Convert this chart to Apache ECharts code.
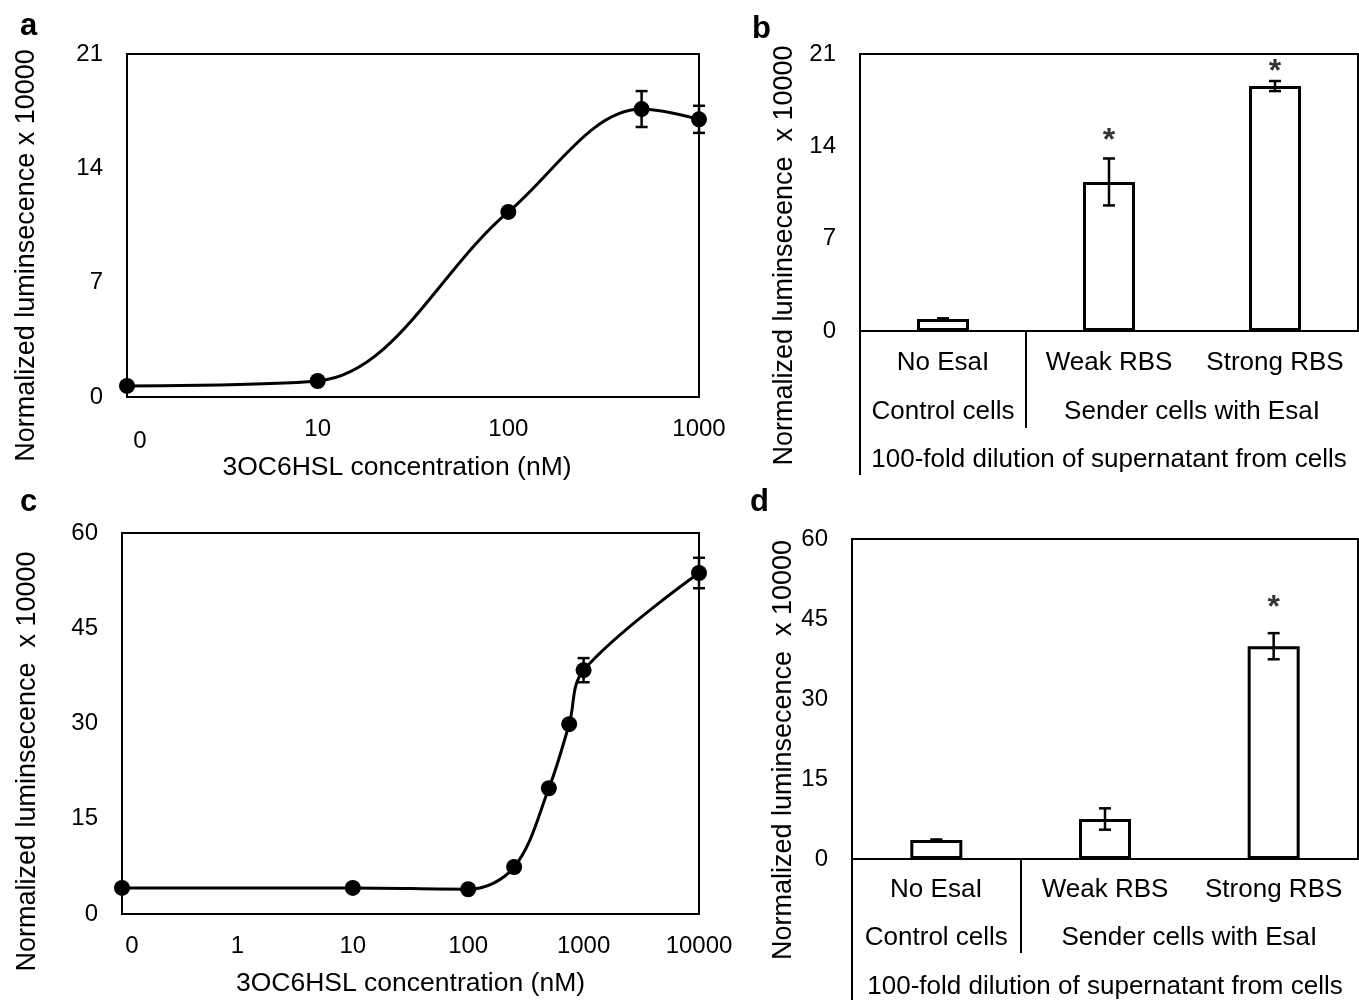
<!DOCTYPE html>
<html>
<head>
<meta charset="utf-8">
<script src="https://cdn.jsdelivr.net/npm/echarts@6/dist/echarts.min.js"></script>
<style>
html,body{margin:0;padding:0;background:#fff;}
#chart{width:1359px;height:1000px;}
</style>
</head>
<body>
<div id="chart"></div>
<script>
// ---------- data ----------
const yTitleA = 'Normalized luminsecence x 10000';
const yTitleB = 'Normalized luminsecence  x 10000';
const xTitle = '3OC6HSL concentration (nM)';

// panel a: dose response (concentration 0 is drawn at the left edge of the log axis)
const concA = [0, 10, 100, 500, 1000];
const lumA = [0.68, 0.98, 11.33, 17.63, 17.0];
const errA = [0, 0, 0, 1.1, 0.83];
const xTickLabelsA = ['0', '10', '100', '1000'];

// panel c
const concC = [0, 10, 100, 250, 500, 750, 1000, 10000];
const lumC = [4.1, 4.1, 3.9, 7.4, 19.8, 29.9, 38.4, 53.7];
const errC = [0, 0, 0, 0, 0, 0, 1.9, 2.4];
const xTickLabelsC = ['0', '1', '10', '100', '1000', '10000'];

// panel b / d: bars
const cats = ['No EsaI', 'Weak RBS', 'Strong RBS'];
const groupLabels = ['Control cells', 'Sender cells with EsaI'];
const sourceLabel = '100-fold dilution of supernatant from cells';
const lumB = [0.91, 11.3, 18.57];
const errB = [0.05, 1.78, 0.38];
const starB = [null, 15.0, 20.2];
const lumD = [3.56, 7.5, 39.9];
const errD = [0.1, 2.0, 2.45];
const starD = [null, null, 48.6];

const yTicksAB = {min: 0, max: 21, interval: 7};
const yTicksCD = {min: 0, max: 60, interval: 15};

// ---------- helpers ----------
const FONT = 'Liberation Sans, Arial, sans-serif';
const BLACK = '#000';
const zeroPosA = 1, zeroPosC = 0.1;   // where concentration "0" sits on each log axis

function lineData(conc, lum, zeroPos) {
  return conc.map((c, i) => [c === 0 ? zeroPos : c, lum[i]]);
}
function errData(conc, lum, err, zeroPos) {
  return conc.map((c, i) => [c === 0 ? zeroPos : c, lum[i], err[i]]).filter(d => d[2] > 0);
}
function errorSeries(xi, yi, data) {
  return {
    type: 'custom', xAxisIndex: xi, yAxisIndex: yi, z: 5,
    data: data,
    renderItem: function (params, api) {
      const x = api.value(0), y = api.value(1), e = api.value(2);
      const t = api.coord([x, y + e]);
      const b = api.coord([x, y - e]);
      const hw = 6;
      const st = {stroke: BLACK, lineWidth: 2.5};
      return {type: 'group', children: [
        {type: 'line', shape: {x1: t[0], y1: t[1], x2: b[0], y2: b[1]}, style: st},
        {type: 'line', shape: {x1: t[0] - hw, y1: t[1], x2: t[0] + hw, y2: t[1]}, style: st},
        {type: 'line', shape: {x1: b[0] - hw, y1: b[1], x2: b[0] + hw, y2: b[1]}, style: st}
      ]};
    }
  };
}
const axisLine = {show: true, lineStyle: {color: BLACK, width: 2}};
const noTick = {show: false};
const noSplit = {show: false};

function logXAxis(gi, min, max, labels, zeroRich, gap, shift) {
  return {
    type: 'log', logBase: 10, gridIndex: gi, min: min, max: max,
    axisLine: axisLine, axisTick: noTick, splitLine: noSplit,
    axisLabel: {
      fontSize: 24, color: BLACK, fontFamily: FONT, margin: 20,
      formatter: function (v, i) { return i === 0 ? '{z|' + labels[0] + '}' : labels[i]; },
      rich: {z: zeroRich}
    },
    name: xTitle, nameLocation: 'middle', nameGap: gap,
    nameTextStyle: {fontSize: 26.5, color: BLACK, fontFamily: FONT, padding: [0, shift, 0, 0]}
  };
}
function yAxis(gi, ticks, title, gap, shift) {
  return {
    type: 'value', gridIndex: gi, min: ticks.min, max: ticks.max, interval: ticks.interval,
    axisLine: axisLine, axisTick: noTick, splitLine: noSplit,
    axisLabel: {fontSize: 24, color: BLACK, fontFamily: FONT, margin: 24},
    name: title, nameLocation: 'middle', nameGap: gap,
    nameTextStyle: {fontSize: 27, color: BLACK, fontFamily: FONT, padding: [0, shift, 0, 0]}
  };
}
function catAxes(gi, m1, m2, m3, len2, len3) {
  const lab = {fontSize: 26, color: BLACK, fontFamily: FONT};
  return [
    {type: 'category', gridIndex: gi, data: cats,
      axisLine: axisLine, axisTick: noTick, splitLine: noSplit,
      axisLabel: Object.assign({margin: m1, interval: 0}, lab)},
    {type: 'value', gridIndex: gi, min: 0, max: 3, position: 'bottom',
      axisLine: {show: false}, splitLine: noSplit,
      axisTick: {show: true, customValues: [0, 1], length: len2, lineStyle: {color: BLACK, width: 2}},
      axisLabel: Object.assign({margin: m2, customValues: [0.5, 2],
        formatter: function (v) { return v < 1 ? groupLabels[0] : groupLabels[1]; }}, lab)},
    {type: 'value', gridIndex: gi, min: 0, max: 3, position: 'bottom',
      axisLine: {show: false}, splitLine: noSplit,
      axisTick: {show: true, customValues: [0], length: len3, lineStyle: {color: BLACK, width: 2}},
      axisLabel: Object.assign({margin: m3, customValues: [1.5],
        formatter: function () { return sourceLabel; }}, lab)}
  ];
}
function barSeries(xi, yi, vals) {
  return {type: 'bar', xAxisIndex: xi, yAxisIndex: yi, data: vals, barWidth: 52,
    itemStyle: {color: '#fff', borderColor: BLACK, borderWidth: 3}, z: 3};
}
function barErr(xi, yi, vals, errs) {
  return errorSeries(xi, yi, vals.map((v, i) => [i, v, errs[i]]));
}
function starSeries(xi, yi, stars) {
  return {type: 'scatter', xAxisIndex: xi, yAxisIndex: yi, symbolSize: 1,
    itemStyle: {color: 'rgba(0,0,0,0)'},
    data: stars.map((s, i) => s == null ? null : [i, s]).filter(d => d),
    label: {show: true, position: 'inside', formatter: '*', fontSize: 32,
      fontWeight: 'bold', color: BLACK, fontFamily: FONT, offset: [0, 8]}};
}
function curveSeries(xi, yi, data) {
  return {type: 'line', xAxisIndex: xi, yAxisIndex: yi, data: data, smooth: 0.35,
    symbol: 'circle', symbolSize: 16, showSymbol: true,
    lineStyle: {color: BLACK, width: 3}, itemStyle: {color: BLACK}, z: 4};
}
const gridStyle = {show: true, borderColor: BLACK, borderWidth: 2, backgroundColor: 'transparent'};
const letter = (t, l, tp) => ({text: t, left: l, top: tp,
  textStyle: {fontSize: 31, fontWeight: 'bold', color: BLACK, fontFamily: FONT}});

const chart = echarts.init(document.getElementById('chart'), null, {renderer: 'canvas'});
const option = {
  animation: false,
  backgroundColor: '#fff',
  title: [letter('a', 15, 6), letter('b', 747, 9), letter('c', 15, 482), letter('d', 745, 482)],
  grid: [
    Object.assign({left: 127, top: 54, width: 572, height: 343}, gridStyle),
    Object.assign({left: 860, top: 54, width: 498, height: 277}, gridStyle),
    Object.assign({left: 122, top: 533, width: 577, height: 381}, gridStyle),
    Object.assign({left: 852, top: 539, width: 506, height: 320}, gridStyle)
  ],
  xAxis: [
    logXAxis(0, 1, 1000, xTickLabelsA, {padding: [12, 0, 0, 26], fontSize: 24, color: BLACK, fontFamily: FONT}, 57, 32),
    ...catAxes(1, 19, 68, 116, 97, 144),
    logXAxis(2, 0.1, 10000, xTickLabelsC, {padding: [0, 0, 0, 20], fontSize: 24, color: BLACK, fontFamily: FONT}, 56, 0),
    ...catAxes(3, 18, 66, 115, 94, 141)
  ],
  yAxis: [
    yAxis(0, yTicksAB, yTitleA, 87, 60),
    yAxis(1, yTicksAB, yTitleB, 62, 126),
    yAxis(2, yTicksCD, yTitleB, 81, 76),
    yAxis(3, yTicksCD, yTitleB, 52, 102)
  ],
  series: [
    curveSeries(0, 0, lineData(concA, lumA, zeroPosA)),
    errorSeries(0, 0, errData(concA, lumA, errA, zeroPosA)),
    barSeries(1, 1, lumB), barErr(1, 1, lumB, errB), starSeries(1, 1, starB),
    curveSeries(4, 2, lineData(concC, lumC, zeroPosC)),
    errorSeries(4, 2, errData(concC, lumC, errC, zeroPosC)),
    barSeries(5, 3, lumD), barErr(5, 3, lumD, errD), starSeries(5, 3, starD)
  ]
};
chart.setOption(option);
</script>
</body>
</html>
